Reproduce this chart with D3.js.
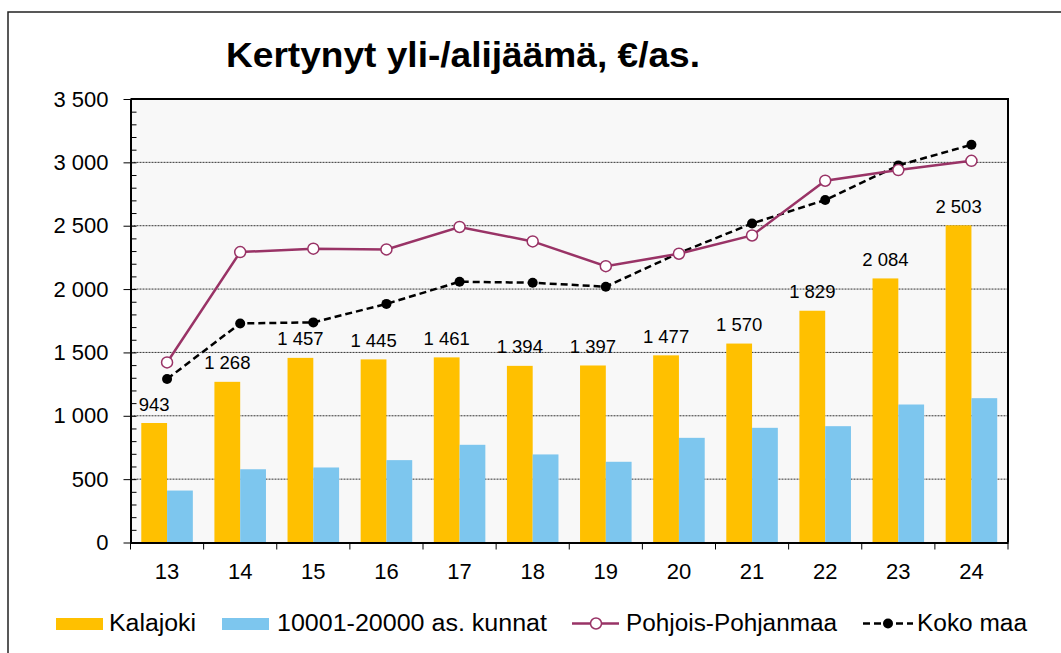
<!DOCTYPE html>
<html>
<head>
  <meta charset="UTF-8">
  <style>
    body { margin: 0; background: #fff; }
    svg { display: block; font-family: "Liberation Sans", Arial, sans-serif; }
    .grid line { stroke: #333; stroke-width: 1; stroke-dasharray: 2 1; }
    .axis path, .axis line { stroke: #000; }
    .axis text { font-size: 22px; fill: #000; }
    .barlabel { font-size: 18.5px; fill: #000; text-anchor: middle; }
    .legend text { font-size: 23px; fill: #000; }
  </style>
</head>
<body>
  <svg width="1061" height="653"></svg>
  <script src="https://d3js.org/d3.v7.min.js"></script>
  <script>
    // vuodet ja sarjat
    const years = ['13', '14', '15', '16', '17', '18', '19', '20', '21', '22', '23', '24'];
    const kalajoki = [943, 1268, 1457, 1445, 1461, 1394, 1397, 1477, 1570, 1829, 2084, 2503];
    const kunnat = [410, 578, 592, 650, 771, 695, 637, 826, 905, 918, 1089, 1139];
    const pohjois = [1421, 2292, 2319, 2313, 2490, 2376, 2181, 2279, 2423, 2855, 2939, 3012];
    const kokoMaa = [1290, 1729, 1737, 1883, 2058, 2050, 2019, 2284, 2518, 2703, 2976, 3139];
    const yTicks = [0, 500, 1000, 1500, 2000, 2500, 3000, 3500];

    const barSeries = [
      { name: 'Kalajoki', values: kalajoki, color: '#FFC000' },
      { name: '10001-20000 as. kunnat', values: kunnat, color: '#7DC6EE' }
    ];

    const svg = d3.select('svg');
    const plotL = 130.5, plotR = 1008, plotT = 99, plotB = 542.5;

    // ulkokehys
    svg.append('rect')
      .attr('x', 8).attr('y', 12).attr('width', 1100).attr('height', 700)
      .attr('fill', 'none').attr('stroke', '#222').attr('stroke-width', 1.5);

    svg.append('text')
      .attr('x', 226).attr('y', 67)
      .attr('textLength', 474).attr('lengthAdjust', 'spacingAndGlyphs')
      .style('font-size', '35px').style('font-weight', 'bold')
      .text('Kertynyt yli-/alijäämä, €/as.');

    const x = d3.scaleBand().domain(years).range([plotL, plotR]).paddingInner(0.295).paddingOuter(0.1475);
    const xc = d3.scaleBand().domain(years).range([plotL, plotR]);
    const x1 = d3.scaleBand().domain(barSeries.map(s => s.name)).range([0, x.bandwidth()]);
    const y = d3.scaleLinear().domain([0, 3500]).range([plotB, plotT]);

    const fi = d3.formatLocale({ decimal: ',', thousands: ' ', grouping: [3], currency: ['', '€'] });
    const fmt = fi.format(',d');

    // piirtoalue
    svg.append('rect')
      .attr('x', plotL).attr('y', plotT).attr('width', plotR - plotL).attr('height', plotB - plotT)
      .attr('fill', '#f8f8f8');

    svg.append('g').attr('class', 'grid')
      .selectAll('line')
      .data(yTicks.filter(v => v > 0 && v < 3500))
      .join('line')
      .attr('x1', plotL).attr('x2', plotR)
      .attr('y1', d => y(d)).attr('y2', d => y(d));

    // pylväät
    const groups = svg.append('g').selectAll('g')
      .data(years)
      .join('g')
      .attr('transform', d => `translate(${x(d)},0)`);

    groups.selectAll('rect')
      .data((d, i) => barSeries.map(s => ({ s, v: s.values[i] })))
      .join('rect')
      .attr('x', d => x1(d.s.name))
      .attr('width', x1.bandwidth())
      .attr('y', d => y(d.v))
      .attr('height', d => y(0) - y(d.v))
      .attr('fill', d => d.s.color);

    svg.append('g').selectAll('text')
      .data(kalajoki)
      .join('text')
      .attr('class', 'barlabel')
      .attr('x', (d, i) => x(years[i]) + x1('Kalajoki') + x1.bandwidth() / 2)
      .attr('y', d => y(d) - 12.5)
      .text(d => fmt(d));

    // kehys ylä ja oikea
    svg.append('path')
      .attr('d', `M${plotL},${plotT}H${plotR}V${plotB}`)
      .attr('fill', 'none').attr('stroke', '#000').attr('stroke-width', 2);

    // y-akseli
    svg.append('g').attr('class', 'axis')
      .attr('transform', `translate(${plotL},0)`)
      .call(d3.axisLeft(y).tickValues(yTicks).tickFormat(fmt).tickSizeInner(7).tickSizeOuter(0).tickPadding(15))
      .call(g => g.select('.domain').attr('stroke-width', 2));

    svg.append('g').attr('class', 'axis')
      .attr('transform', `translate(${plotL},0)`)
      .call(d3.axisRight(y).tickValues(d3.range(0, 3501, 100)).tickFormat('').tickSize(6))
      .call(g => g.select('.domain').remove());

    // x-akseli
    const xAxis = svg.append('g').attr('class', 'axis')
      .attr('transform', `translate(0,${plotB})`)
      .call(d3.axisBottom(xc).tickSize(0).tickPadding(20))
      .call(g => g.select('.domain').attr('stroke-width', 2));
    xAxis.selectAll('.tick text').attr('dy', '0.71em').attr('y', 21);
    xAxis.selectAll('.bound')
      .data(d3.range(years.length + 1))
      .join('line')
      .attr('x1', i => plotL + i * xc.step()).attr('x2', i => plotL + i * xc.step())
      .attr('y1', 0).attr('y2', 7)
      .attr('stroke', '#000');

    // viivat
    const line = d3.line().x((d, i) => xc(years[i]) + xc.bandwidth() / 2).y(d => y(d));

    svg.append('path').datum(kokoMaa)
      .attr('d', line).attr('fill', 'none')
      .attr('stroke', '#000').attr('stroke-width', 2.5).attr('stroke-dasharray', '7 4');
    svg.append('g').selectAll('circle')
      .data(kokoMaa).join('circle')
      .attr('cx', (d, i) => xc(years[i]) + xc.bandwidth() / 2)
      .attr('cy', d => y(d)).attr('r', 5).attr('fill', '#000');

    svg.append('path').datum(pohjois)
      .attr('d', line).attr('fill', 'none')
      .attr('stroke', '#993366').attr('stroke-width', 2.5);
    svg.append('g').selectAll('circle')
      .data(pohjois).join('circle')
      .attr('cx', (d, i) => xc(years[i]) + xc.bandwidth() / 2)
      .attr('cy', d => y(d)).attr('r', 5.5)
      .attr('fill', '#fff').attr('stroke', '#993366').attr('stroke-width', 1.5);

    // selite
    const lg = svg.append('g').attr('class', 'legend');
    lg.append('rect').attr('x', 56).attr('y', 618).attr('width', 47).attr('height', 12).attr('fill', '#FFC000');
    lg.append('text').attr('x', 109).attr('y', 631).attr('textLength', 87).attr('lengthAdjust', 'spacingAndGlyphs').text('Kalajoki');
    lg.append('rect').attr('x', 222).attr('y', 618).attr('width', 47).attr('height', 12).attr('fill', '#7DC6EE');
    lg.append('text').attr('x', 277).attr('y', 631).attr('textLength', 270).attr('lengthAdjust', 'spacingAndGlyphs').text('10001-20000 as. kunnat');
    lg.append('line').attr('x1', 572).attr('x2', 619).attr('y1', 623.5).attr('y2', 623.5)
      .attr('stroke', '#993366').attr('stroke-width', 2.5);
    lg.append('circle').attr('cx', 596).attr('cy', 623.5).attr('r', 5.5)
      .attr('fill', '#fff').attr('stroke', '#993366').attr('stroke-width', 1.5);
    lg.append('text').attr('x', 626).attr('y', 631).attr('textLength', 211).attr('lengthAdjust', 'spacingAndGlyphs').text('Pohjois-Pohjanmaa');
    lg.append('line').attr('x1', 863).attr('x2', 913).attr('y1', 623.5).attr('y2', 623.5)
      .attr('stroke', '#000').attr('stroke-width', 2.5).attr('stroke-dasharray', '7 4');
    lg.append('circle').attr('cx', 888).attr('cy', 623.5).attr('r', 5).attr('fill', '#000');
    lg.append('text').attr('x', 917).attr('y', 631).attr('textLength', 110).attr('lengthAdjust', 'spacingAndGlyphs').text('Koko maa');
  </script>
</body>
</html>
